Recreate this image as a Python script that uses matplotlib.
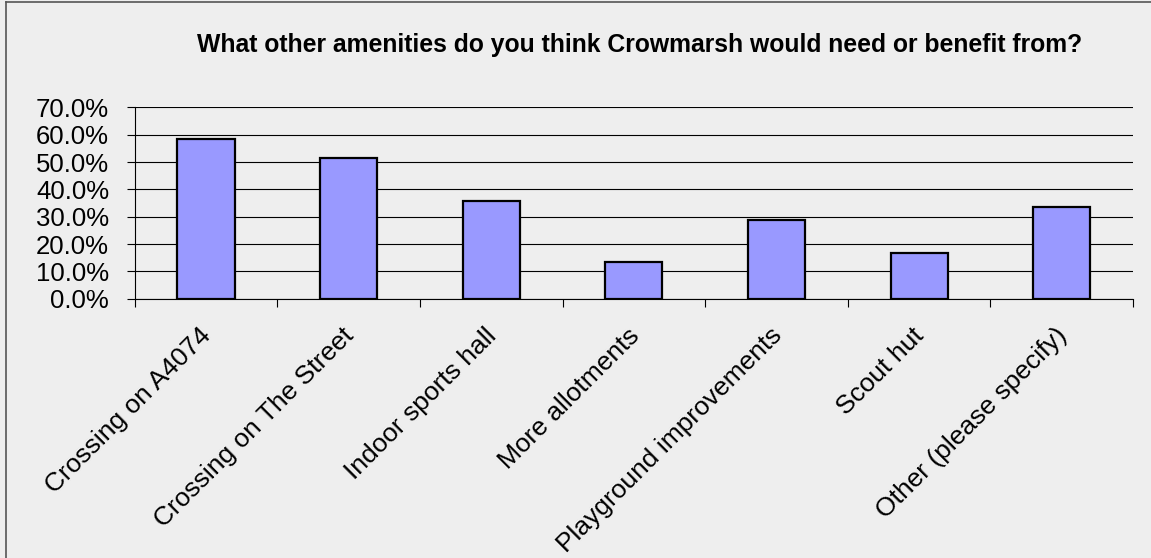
import numpy as np
import matplotlib.pyplot as plt
import matplotlib.transforms as mtransforms
from matplotlib.lines import Line2D
from matplotlib.ticker import FixedLocator, PercentFormatter

plt.rcParams['font.family'] = ['Liberation Sans', 'DejaVu Sans']

categories = [
    "Crossing on A4074",
    "Crossing on The Street",
    "Indoor sports hall",
    "More allotments",
    "Playground improvements",
    "Scout hut",
    "Other (please specify)",
]
shares = [58.4, 51.6, 35.8, 13.6, 28.9, 16.9, 33.6]
y_ticks = [0, 10, 20, 30, 40, 50, 60, 70]
title = "What other amenities do you think Crowmarsh would need or benefit from?"

W, H = 1151, 558
fig = plt.figure(figsize=(W / 100, H / 100), dpi=100, facecolor='#eeeeee')
ax = fig.add_axes([134.7 / W, 1 - 298.7 / H, (1133 - 134.7) / W, (298.7 - 107.5) / H])
ax.set_facecolor('#eeeeee')

# frame round the chart area (top and left edges show)
fig.add_artist(Line2D([6 / W, 6 / W], [0, 1 - 2 / H], transform=fig.transFigure,
                      color='#555555', lw=1.2))
fig.add_artist(Line2D([6 / W, 1], [1 - 2 / H, 1 - 2 / H], transform=fig.transFigure,
                      color='#555555', lw=1.2))

x = np.arange(len(categories))
ax.bar(x, shares, width=0.4, color='#9999ff', edgecolor='black', linewidth=1.6, zorder=3)

ax.set_xlim(-0.5, len(categories) - 0.5)
ax.set_ylim(0, 70)
ax.set_yticks(y_ticks)
ax.yaxis.set_major_formatter(PercentFormatter(decimals=1))
ax.grid(axis='y', color='black', lw=0.8, zorder=1)

for side in ['top', 'right']:
    ax.spines[side].set_visible(False)
for side in ['left', 'bottom']:
    ax.spines[side].set_color('black')
    ax.spines[side].set_linewidth(0.8)

ax.tick_params(axis='y', direction='out', length=5.5, width=0.8, pad=13,
               labelsize=18.5, colors='black')
ax.set_xticks(x)
ax.set_xticklabels(categories, rotation=45, ha='right', rotation_mode='anchor',
                   fontsize=19)
ax.tick_params(axis='x', which='major', length=0, pad=15)
ax.xaxis.set_minor_locator(FixedLocator(np.arange(len(categories) + 1) - 0.5))
ax.tick_params(axis='x', which='minor', direction='out', length=6, width=0.8)

# nudge the slanted labels a little left and down
shift = mtransforms.ScaledTranslation(-7 / 100, -4 / 100, fig.dpi_scale_trans)
for lbl in ax.get_xticklabels():
    lbl.set_transform(lbl.get_transform() + shift)

fig.text(640 / W, 1 - 52 / H, title, ha='center', va='baseline',
         fontsize=17.8, fontweight='bold')

fig.savefig('out.png', dpi=100, facecolor=fig.get_facecolor())
